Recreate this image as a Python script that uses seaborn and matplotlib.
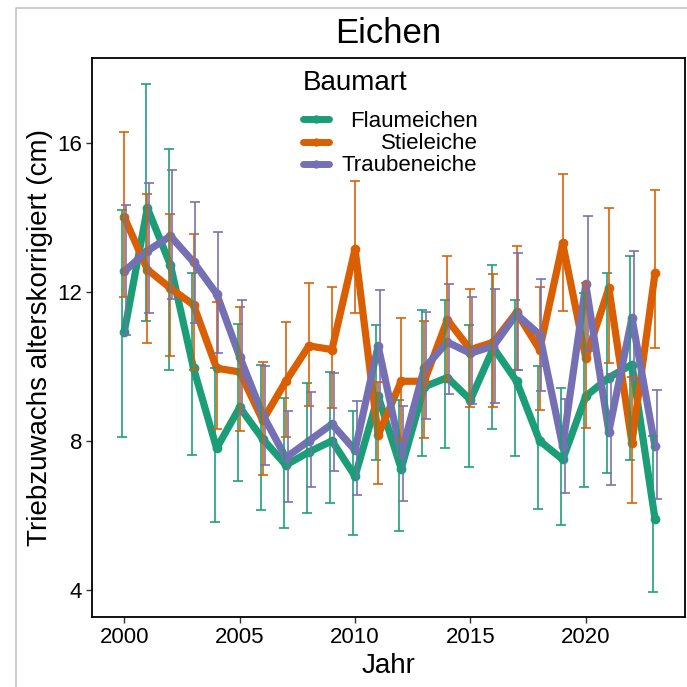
import numpy as np
import pandas as pd
import matplotlib
matplotlib.use("Agg")
import matplotlib.pyplot as plt
from matplotlib.lines import Line2D
import seaborn as sns

# values (mean and error bar ends)
jahre = list(range(2000, 2024))

flaum = [10.93, 14.25, 12.72, 9.95, 7.8, 8.9, 8.05, 7.35, 7.7, 8.0, 7.05, 9.2,
         7.25, 9.45, 9.7, 9.1, 10.5, 9.6, 8.0, 7.5, 9.2, 9.7, 10.05, 5.9]
flaum_lo = [8.09, 11.22, 9.89, 7.62, 5.81, 6.91, 6.15, 5.67, 6.06, 6.33, 5.48, 7.49,
            5.57, 7.58, 7.82, 7.31, 8.31, 7.58, 6.18, 5.74, 6.75, 7.15, 7.49, 3.95]
flaum_hi = [14.2, 17.58, 15.84, 12.52, 9.96, 11.14, 10.04, 9.15, 9.55, 9.86, 8.79, 11.11,
            9.10, 11.52, 11.77, 11.1, 12.73, 11.77, 10.0, 9.41, 11.97, 12.5, 12.95, 8.13]

stiel = [14.0, 12.6, 12.1, 11.65, 9.95, 9.85, 8.55, 9.6, 10.55, 10.45, 13.15, 8.15,
         9.6, 9.6, 11.25, 10.45, 10.65, 11.45, 10.45, 13.3, 10.22, 12.1, 7.95, 12.5]
stiel_lo = [11.85, 10.64, 10.28, 9.91, 8.32, 8.27, 7.07, 8.09, 8.94, 8.88, 11.44, 6.84,
            8.03, 8.07, 9.64, 8.92, 8.92, 9.89, 8.83, 11.49, 8.34, 10.09, 6.33, 10.49]
stiel_hi = [16.28, 14.63, 14.09, 13.55, 11.72, 11.6, 10.13, 11.18, 12.23, 12.12, 14.99, 9.59,
            11.29, 11.23, 12.97, 12.07, 12.48, 13.24, 12.14, 15.17, 12.23, 14.26, 9.71, 14.74]

trauben = [12.55, 13.1, 13.5, 12.8, 11.95, 10.26, 8.7, 7.55, 8.0, 8.45, 7.75, 10.55,
           7.65, 9.95, 10.65, 10.35, 10.55, 11.4, 10.85, 7.85, 12.2, 8.25, 11.3, 7.85]
trauben_lo = [10.85, 11.44, 11.8, 11.16, 10.37, 8.75, 7.34, 6.35, 6.75, 7.2, 6.55, 8.94,
              6.39, 8.59, 9.26, 8.99, 9.02, 9.89, 9.35, 6.6, 10.4, 6.82, 9.64, 6.44]
trauben_hi = [14.34, 14.92, 15.26, 14.42, 13.6, 11.79, 10.01, 8.81, 9.32, 9.83, 9.06, 12.05,
              8.94, 11.45, 12.21, 11.85, 12.07, 13.04, 12.35, 9.13, 14.05, 9.8, 13.1, 9.37]

arten = ["Flaumeichen", "Stieleiche", "Traubeneiche"]
farben = ["#1B9E77", "#D95F02", "#7570B3"]

df = pd.concat([
    pd.DataFrame({"Jahr": jahre, "wert": m, "lo": lo, "hi": hi, "Baumart": a})
    for a, m, lo, hi in zip(arten, [flaum, stiel, trauben],
                            [flaum_lo, stiel_lo, trauben_lo],
                            [flaum_hi, stiel_hi, trauben_hi])
], ignore_index=True)

sns.set_style("white")
plt.rcParams["font.family"] = ["Liberation Sans", "DejaVu Sans"]
plt.rcParams["text.color"] = "black"
plt.rcParams["axes.labelcolor"] = "black"

fig = plt.figure(figsize=(6.87, 6.87), dpi=100)
ax = fig.add_axes([92 / 687, 70 / 687, 593 / 687, 559 / 687])

pal = dict(zip(arten, farben))
sns.lineplot(data=df, x="Jahr", y="wert", hue="Baumart", palette=pal,
             estimator=None, linewidth=5.2, marker="o", markersize=7,
             markeredgewidth=0, ax=ax, zorder=2)

# error bars, slightly dodged like the original
dodge = {"Flaumeichen": -0.08, "Stieleiche": 0.0, "Traubeneiche": 0.08}
for a in arten:
    d = df[df["Baumart"] == a]
    x = d["Jahr"] + dodge[a]
    ax.errorbar(x, d["wert"], yerr=[d["wert"] - d["lo"], d["hi"] - d["wert"]],
                fmt="none", ecolor=pal[a], elinewidth=1.3, capsize=3.5,
                capthick=1.3, alpha=0.9, zorder=3)

ax.set_xlim(1998.6, 2024.3)
ax.set_ylim(3.27, 18.28)
ax.set_xticks([2000, 2005, 2010, 2015, 2020])
ax.set_yticks([4, 8, 12, 16])
ax.tick_params(axis="both", direction="out", length=4, width=1, color="#333333",
               labelsize=16, labelcolor="black", pad=3, bottom=True, left=True)
for s in ax.spines.values():
    s.set_color("black")
    s.set_linewidth(1.3)

ax.set_xlabel("Jahr", fontsize=20, labelpad=4)
ax.set_ylabel("Triebzuwachs alterskorrigiert (cm)", fontsize=20, labelpad=3)
ax.set_title("Eichen", fontsize=25, pad=11, color="black")

handles, labels = ax.get_legend_handles_labels()
leg = ax.legend(handles, labels, title="Baumart", loc="upper left",
                bbox_to_anchor=((303 - 92) / 593, 1 - (70 - 58) / 559),
                frameon=False, fontsize=16, title_fontsize=20,
                alignment="left", borderpad=0, borderaxespad=0,
                handlelength=1.15, handletextpad=0.6, labelspacing=0.05)
for h in leg.legend_handles:
    h.set_linewidth(5)
    h.set_markersize(6)
# more room between legend title and entries
leg._legend_box.sep = 11

# right-align the legend labels like ggplot
fig.canvas.draw()
r = fig.canvas.get_renderer()
widths = [t.get_window_extent(r).width for t in leg.get_texts()]
wmax = max(widths)
for t, w in zip(leg.get_texts(), widths):
    t.set_x(wmax - w)

# light grey frame around the picture
fig.add_artist(Line2D([16 / 687, 16 / 687, 1.0], [0.0, 1 - 8 / 687, 1 - 8 / 687],
                      transform=fig.transFigure, color="#c4c4c4", linewidth=1.2))

fig.savefig("out.png", dpi=100)
